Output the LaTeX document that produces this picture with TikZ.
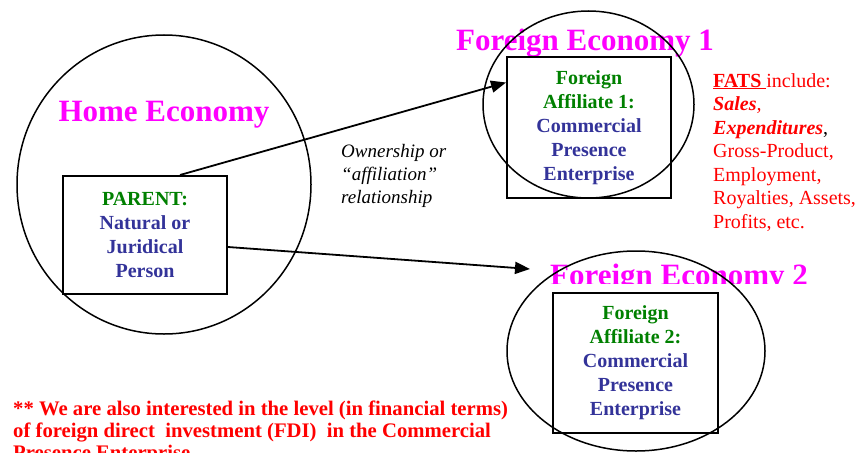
\documentclass[tikz,border=0pt]{standalone}
\usepackage{fontspec}
\setmainfont{Liberation Serif}
\usetikzlibrary{arrows.meta,shapes.geometric}
\definecolor{mag}{RGB}{255,0,255}
\definecolor{grn}{RGB}{0,128,0}
\definecolor{blu}{RGB}{51,51,153}
\definecolor{rd}{RGB}{255,0,0}
\tikzset{
  econ/.style={draw, ellipse, line width=1.5pt, inner sep=0pt},
  title/.style={text=mag, font=\bfseries\fontsize{31}{36}\selectfont, inner sep=0pt},
  box/.style={draw, line width=2pt, inner sep=0pt, align=center, text=blu,
    font=\bfseries\fontsize{20}{24}\selectfont},
  arr/.style={line width=1.8pt, -{Triangle[length=15pt,width=12pt]}},
  note/.style={inner sep=0pt, align=left}
}
\begin{document}
\begin{tikzpicture}[x=1pt,y=-1pt]
\useasboundingbox (0,0) rectangle (861,452);
% titles (drawn first, circles cross over them)
\node[title, anchor=base] (homelab) at (164,121) {Home Economy};
\node[title, anchor=base west] (fe1lab) at (456,51) {Foreign Economy 1};
\begin{scope}
  \clip (540,250) rectangle (840,283);
  \node[title, anchor=base west] (fe2lab) at (550,285) {Foreign Economy 2};
\end{scope}
% economies
\node[econ, minimum width=294pt, minimum height=299pt] (home) at (164,184.5) {};
\node[econ, minimum width=211pt, minimum height=187pt] (fe1) at (588.5,104.5) {};
\node[econ, minimum width=258pt, minimum height=200pt] (fe2) at (636,351) {};
% boxes
\node[box, minimum width=164pt, minimum height=118pt] (parent) at (145,235)
  {\textcolor{grn}{PARENT:}\\Natural or\\Juridical\\Person};
\node[box, minimum width=164pt, minimum height=141pt] (fa1) at (589,127.5)
  {\textcolor{grn}{Foreign}\\\textcolor{grn}{Affiliate 1:}\\Commercial\\Presence\\Enterprise};
\node[box, minimum width=165pt, minimum height=140pt] (fa2) at (635.5,363)
  {\textcolor{grn}{Foreign}\\\textcolor{grn}{Affiliate 2:}\\Commercial\\Presence\\Enterprise};
% connectors
\coordinate (a2e) at (530,269);
\draw[arr] ([xshift=35pt]parent.north) -- ([yshift=45pt]fa1.west);
\draw[arr] ([yshift=-12pt]parent.east) -- (a2e);
% labels (base anchor = baseline of the last line)
\node[note, anchor=base west, font=\itshape\fontsize{19}{23}\selectfont] (own) at (341,203)
  {Ownership or\\``affiliation''\\relationship};
\node[note, anchor=base west, text=rd, font=\fontsize{20}{23.5}\selectfont] (fats) at (713,228)
  {\underline{\textbf{FATS}\ }include:\\\textbf{\textit{Sales}}\textit{,}\\\textbf{\textit{Expenditures}}\textcolor{black}{,}\\Gross-Product,\\Employment,\\Royalties, Assets,\\Profits, etc.};
\node[note, anchor=base west, text=rd, font=\bfseries\fontsize{20.7}{22}\selectfont] (fdi) at (13,459)
  {** We are also interested in the level (in financial terms)\\of foreign direct\ \ investment (FDI)\ \ in the Commercial\\Presence Enterprise};
\end{tikzpicture}
\end{document}
